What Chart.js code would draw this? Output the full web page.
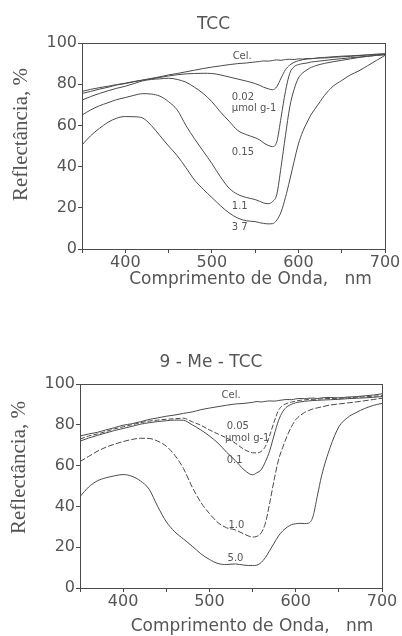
<!DOCTYPE html>
<html>
<head>
<meta charset="utf-8">
<script src="https://cdn.jsdelivr.net/npm/chart.js@4.4.0/dist/chart.umd.min.js"></script>
<style>
  html, body { margin: 0; padding: 0; background: #fff; }
  .panel { position: absolute; left: 0; width: 402px; }
  #top { top: 0; height: 310px; }
  #bottom { top: 310px; height: 326px; }
</style>
</head>
<body>
<div class="panel" id="top"><canvas id="tccChart"></canvas></div>
<div class="panel" id="bottom"><canvas id="meChart"></canvas></div>
<script>
// ─── DATA ───────────────────────────────────────────────
// wavelength grid (nm), shared by every curve
const waveGrid = [350, 360, 370, 380, 390, 400, 410, 420, 430, 440,
  450, 460, 470, 480, 490, 500, 510, 520, 530, 540,
  550, 555, 560, 565, 570, 575, 580, 585, 590, 595,
  600, 605, 610, 615, 620, 625, 630, 640, 650, 660,
  670, 680, 690, 700];

const xTicks = [400, 500, 600, 700];
const yTicks = [0, 20, 40, 60, 80, 100];

// TCC panel (reflectance, %)
const tccCel = [76.5, 77.5, 78.3, 79.0, 79.8, 80.5, 81.3, 82.0, 82.8, 83.6,
  84.5, 85.2, 86.0, 86.8, 87.6, 88.3, 88.9, 89.5, 90.0, 90.3,
  90.8, 91.0, 91.3, 91.2, 91.5, 91.8, 91.6, 92.0, 92.1, 92.0,
  92.3, 92.2, 92.5, 92.4, 92.6, 92.8, 92.7, 93.1, 93.3, 93.5,
  93.9, 94.2, 94.6, 94.8];
const tcc002 = [75.5, 76.5, 77.6, 78.5, 79.6, 80.3, 81.2, 82.0, 82.6, 83.3,
  84.0, 84.6, 85.0, 85.2, 85.3, 85.2, 84.5, 83.5, 82.5, 81.5,
  80.3, 79.5, 78.5, 77.8, 77.3, 78.8, 83.0, 87.0, 89.3, 90.6,
  91.4, 91.9, 92.2, 92.4, 92.6, 92.8, 93.0, 93.3, 93.6, 93.8,
  94.0, 94.2, 94.4, 94.6];
const tcc015 = [72.3, 74.0, 75.5, 76.8, 78.0, 79.0, 80.3, 81.6, 82.3, 82.6,
  82.9, 82.3, 81.0, 78.5, 75.5, 71.5, 66.5, 62.0, 57.5, 55.5,
  54.0, 53.0, 51.5, 50.3, 49.7, 52.0, 64.0, 76.5, 85.3, 88.5,
  89.5, 90.0, 90.3, 90.8, 91.0, 91.3, 91.5, 92.0, 92.4, 92.8,
  93.2, 93.6, 94.0, 94.4];
const tcc11 = [65.0, 67.5, 69.5, 71.0, 72.5, 73.5, 74.6, 75.4, 75.2, 74.2,
  71.5, 67.5, 60.0, 53.5, 47.5, 41.5, 35.0, 29.5, 26.5, 25.0,
  24.0, 23.2, 22.3, 22.0, 23.0, 26.5, 40.0, 55.0, 69.0, 77.5,
  83.0, 85.5, 87.0, 88.2, 89.0, 89.6, 90.1, 90.9, 91.6, 92.3,
  93.0, 93.5, 94.0, 94.3];
const tcc37 = [50.5, 55.0, 58.5, 61.5, 63.5, 64.3, 64.2, 63.6, 60.0, 55.0,
  50.0, 45.3, 39.5, 33.5, 29.0, 25.0, 21.0, 17.5, 15.0, 13.7,
  13.3, 12.8, 12.4, 12.2, 12.3, 14.0, 18.0, 25.0, 33.5, 42.5,
  51.0, 57.0, 61.5, 65.5, 68.5, 71.5, 74.5, 79.0, 81.8, 84.5,
  86.5, 89.0, 91.5, 94.0];

// 9-Me-TCC panel (reflectance, %)
const meCel = [74.5, 75.5, 76.3, 77.5, 78.6, 79.8, 80.5, 81.5, 82.6, 83.4,
  84.2, 84.8, 85.6, 86.3, 87.4, 88.2, 88.9, 89.6, 90.2, 90.5,
  91.0, 91.4, 91.2, 91.5, 91.7, 91.6, 91.9, 92.2, 92.4, 92.3,
  92.7, 92.9, 92.8, 93.0, 93.1, 92.9, 93.2, 93.4, 93.2, 93.6,
  93.8, 94.2, 94.6, 95.2];
const me005 = [73.0, 74.5, 75.5, 76.7, 78.0, 79.0, 80.0, 81.0, 81.8, 82.3,
  82.7, 83.0, 83.2, 81.5, 79.8, 77.5, 75.5, 73.5, 71.0, 68.0,
  66.3, 66.2, 67.0, 69.5, 75.0, 81.5, 87.0, 89.5, 90.5, 91.1,
  91.6, 92.0, 92.2, 92.4, 92.5, 92.6, 92.7, 92.9, 93.0, 93.2,
  93.5, 93.7, 94.0, 94.3];
const me01 = [72.0, 73.5, 74.8, 76.0, 77.2, 78.2, 79.2, 80.3, 81.0, 81.6,
  82.0, 82.3, 82.2, 80.0, 77.5, 74.5, 71.0, 66.5, 62.5, 58.0,
  55.5, 56.5, 58.0, 62.0, 67.5, 75.0, 82.0, 86.5, 88.9, 90.0,
  90.8, 91.2, 91.5, 91.7, 91.9, 92.0, 92.1, 92.3, 92.5, 92.8,
  93.0, 93.2, 93.5, 93.8];
const me10 = [62.0, 64.5, 67.0, 69.0, 70.5, 71.8, 72.8, 73.4, 73.3, 72.0,
  69.5, 65.0, 58.5, 49.5, 42.0, 36.5, 32.0, 29.5, 28.5, 26.5,
  25.0, 25.3, 27.0, 32.0, 42.0, 53.0, 62.7, 69.0, 74.5, 79.0,
  82.5, 84.5, 86.0, 87.0, 87.8, 88.3, 88.8, 89.7, 90.2, 90.7,
  91.2, 91.8, 92.4, 93.0];
const me50 = [44.8, 49.5, 52.5, 54.0, 55.0, 55.6, 54.8, 52.5, 48.5, 40.0,
  32.5, 27.5, 24.0, 20.5, 16.8, 14.0, 12.0, 11.5, 11.8, 11.2,
  11.0, 11.2, 12.5, 15.0, 18.5, 22.0, 25.5, 28.0, 29.8, 31.0,
  31.5, 31.7, 31.6, 31.8, 35.0, 45.0, 55.0, 69.0, 79.0, 83.5,
  86.0, 88.0, 89.5, 90.5];

// curve annotations, in data units (nm, %)
const tccNotes = [
  { text: 'Cel.', x: 524, y: 93.3 },
  { text: '0.02', x: 523, y: 73.8 },
  { text: 'µmol g-1', x: 523, y: 68.4 },
  { text: '0.15', x: 523, y: 47 },
  { text: '1.1', x: 523, y: 20.9 },
  { text: '3 7', x: 523, y: 10.7 }
];
const meNotes = [
  { text: 'Cel.', x: 514, y: 94.2 },
  { text: '0.05', x: 520, y: 79 },
  { text: 'µmol g-1', x: 518, y: 73.4 },
  { text: '0.1', x: 520, y: 62.7 },
  { text: '1.0', x: 522, y: 30.9 },
  { text: '5.0', x: 521, y: 14.6 }
];

// ─── HELPERS ────────────────────────────────────────────
const INK = '#4a4a4a';
const TXT = '#555';

const toPoints = arr => waveGrid.map((x, i) => ({ x, y: arr[i] }));

function lineSet(arr, dash) {
  return {
    data: toPoints(arr),
    borderColor: INK,
    borderWidth: 1,
    borderDash: dash || [],
    pointRadius: 0,
    fill: false,
    cubicInterpolationMode: 'monotone'
  };
}

// frame, curve notes, panel title and both axis titles
const extras = {
  id: 'extras',
  afterDraw(chart, args, opts) {
    const { ctx, chartArea: a, scales } = chart;
    const midX = (a.left + a.right) / 2;
    ctx.save();
    ctx.strokeStyle = INK;
    ctx.lineWidth = 1;
    ctx.strokeRect(a.left + 0.5, a.top + 0.5, a.right - a.left, a.bottom - a.top);

    ctx.fillStyle = TXT;
    ctx.font = '10px "DejaVu Sans"';
    ctx.textAlign = 'left';
    ctx.textBaseline = 'middle';
    (opts.notes || []).forEach(n => {
      ctx.fillText(n.text, scales.x.getPixelForValue(n.x), scales.y.getPixelForValue(n.y));
    });

    ctx.textAlign = 'center';
    ctx.font = '17px "DejaVu Sans"';
    ctx.fillText(opts.title, midX - 20, opts.titleY);
    ctx.fillText('Comprimento de Onda,   nm', midX + opts.xTitleDx, a.bottom + opts.xTitleDy);

    ctx.translate(opts.yTitleX, (a.top + a.bottom) / 2 + opts.yTitleDy);
    ctx.rotate(-Math.PI / 2);
    ctx.font = '21px "Liberation Serif"';
    ctx.fillText('Reflectância, %', 0, 0);
    ctx.restore();
  }
};

function makeChart(id, title, sets, notes, geo) {
  const ctx = document.getElementById(id).getContext('2d');
  return new Chart(ctx, {
    type: 'line',
    data: { datasets: sets },
    options: {
      responsive: true,
      maintainAspectRatio: false,
      animation: false,
      layout: { padding: { left: 0, right: geo.right, top: geo.top, bottom: geo.bottom } },
      plugins: {
        legend: { display: false },
        tooltip: { enabled: false },
        title: { display: false },
        extras: {
          notes, title, titleY: geo.titleY,
          xTitleDx: geo.xTitleDx, xTitleDy: geo.xTitleDy,
          yTitleX: geo.yTitleX, yTitleDy: geo.yTitleDy
        }
      },
      scales: {
        x: {
          type: 'linear',
          min: 350,
          max: 700,
          afterFit: s => { s.height = geo.xHeight; },
          grid: { drawOnChartArea: false, tickLength: 4, color: INK },
          border: { color: INK },
          ticks: {
            stepSize: 50,
            autoSkip: false,
            maxRotation: 0,
            padding: 0,
            color: TXT,
            font: { family: 'DejaVu Sans', size: 16 },
            callback: v => xTicks.includes(v) ? String(v) : ''
          }
        },
        y: {
          min: 0,
          max: 100,
          afterFit: s => { s.width = geo.yWidth; },
          grid: { drawOnChartArea: false, tickLength: 4, color: INK },
          border: { color: INK },
          ticks: {
            stepSize: 20,
            padding: 1,
            color: TXT,
            font: { family: 'DejaVu Sans', size: 16 },
            callback: v => yTicks.includes(v) ? String(v) : ''
          }
        }
      }
    },
    plugins: [extras]
  });
}

document.addEventListener('DOMContentLoaded', () => {
  makeChart('tccChart', 'TCC',
    [lineSet(tccCel), lineSet(tcc002), lineSet(tcc015), lineSet(tcc11), lineSet(tcc37)],
    tccNotes,
    { top: 43, right: 17, bottom: 20, titleY: 25, xHeight: 41, yWidth: 82,
      xTitleDx: 17, xTitleDy: 31, yTitleX: 21, yTitleDy: -11.5 });

  makeChart('meChart', '9 - Me - TCC',
    [lineSet(meCel), lineSet(me005, [5, 2]), lineSet(me01), lineSet(me10, [6, 2]), lineSet(me50)],
    meNotes,
    { top: 74, right: 20, bottom: 0, titleY: 53, xHeight: 48, yWidth: 80,
      xTitleDx: 21, xTitleDy: 39, yTitleX: 19, yTitleDy: -18.5 });
});
</script>
</body>
</html>
